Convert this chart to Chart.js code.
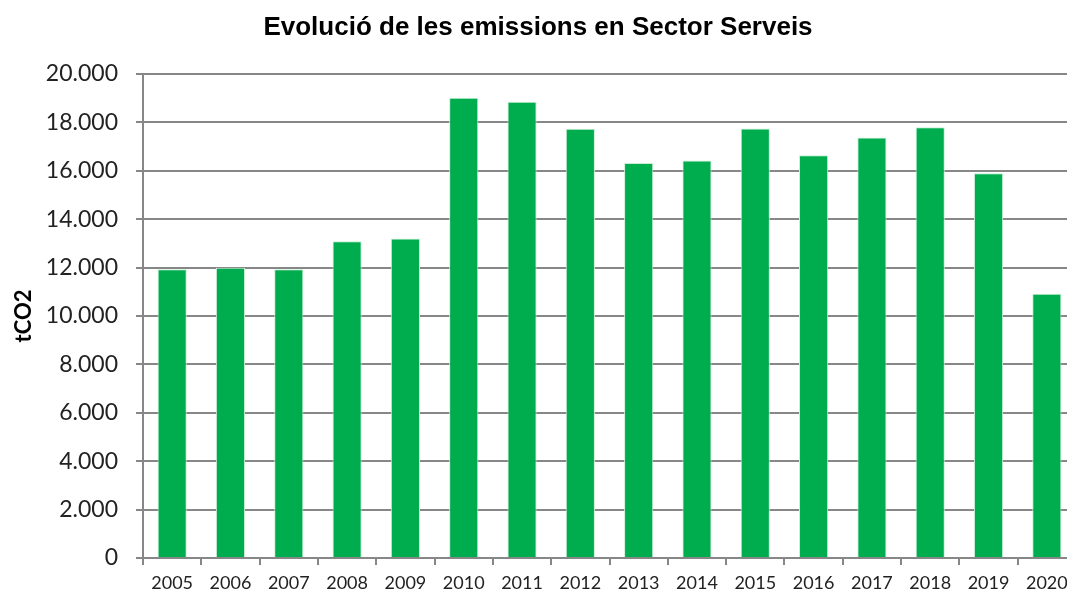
<!DOCTYPE html>
<html>
<head>
<meta charset="utf-8">
<script src="https://cdn.jsdelivr.net/npm/chart.js@4/dist/chart.umd.min.js"></script>
<style>
  html, body { margin: 0; padding: 0; background: #fff; }
  #wrap { width: 1067px; height: 594px; overflow: hidden; }
  #wrap canvas { display: block; }
</style>
</head>
<body>
<div id="wrap"><canvas id="chart" width="1076" height="594"></canvas></div>
<script>
// data
const years = ["2005","2006","2007","2008","2009","2010","2011","2012",
               "2013","2014","2015","2016","2017","2018","2019","2020"];
const emissions = [11930, 11990, 11930, 13090, 13200, 19020, 18850, 17740,
                   16320, 16430, 17750, 16640, 17380, 17800, 15900, 10920];
const yMin = 0, yMax = 20000, yStep = 2000;

const gray = "#878787";

function fmt(v){
  return String(v).replace(/\B(?=(\d{3})+(?!\d))/g, ".");
}

new Chart(document.getElementById("chart"), {
  type: "bar",
  data: {
    labels: years,
    datasets: [{
      data: emissions,
      backgroundColor: "#00ad4e",
      borderColor: "#c9efd6",
      borderWidth: 1,
      barPercentage: 0.5,
      categoryPercentage: 1.0
    }]
  },
  options: {
    responsive: false,
    animation: false,
    layout: { padding: 0 },
    plugins: {
      legend: { display: false },
      tooltip: { enabled: false },
      title: {
        display: true,
        text: "Evolució de les emissions en Sector Serveis",
        color: "#000",
        font: { family: "'Liberation Sans', Arial, sans-serif", size: 26, weight: "bold", lineHeight: 1.2 },
        padding: { top: 12, bottom: 30.8 }
      }
    },
    scales: {
      x: {
        afterFit: s => { s.height = 36; },
        grid: { display: true, drawOnChartArea: false, drawTicks: true, tickLength: 7, color: gray, lineWidth: 2 },
        border: { color: gray, width: 2 },
        ticks: { color: "#222", padding: 7, maxRotation: 0, autoSkip: false,
                 font: { family: "Lato, sans-serif", size: 18 } }
      },
      y: {
        min: yMin, max: yMax,
        afterFit: s => { s.width = 143; },
        grid: { color: gray, lineWidth: 2, tickLength: 7 },
        border: { color: gray, width: 2 },
        ticks: { stepSize: yStep, color: "#222", padding: 18, callback: v => fmt(v),
                 font: { family: "Lato, sans-serif", size: 23 } },
        title: {
          display: true, text: "tCO2", color: "#000",
          font: { family: "Lato, sans-serif", size: 22, weight: "bold", lineHeight: 1.2 },
          padding: { top: 11, bottom: 0 }
        }
      }
    }
  }
});
</script>
</body>
</html>
